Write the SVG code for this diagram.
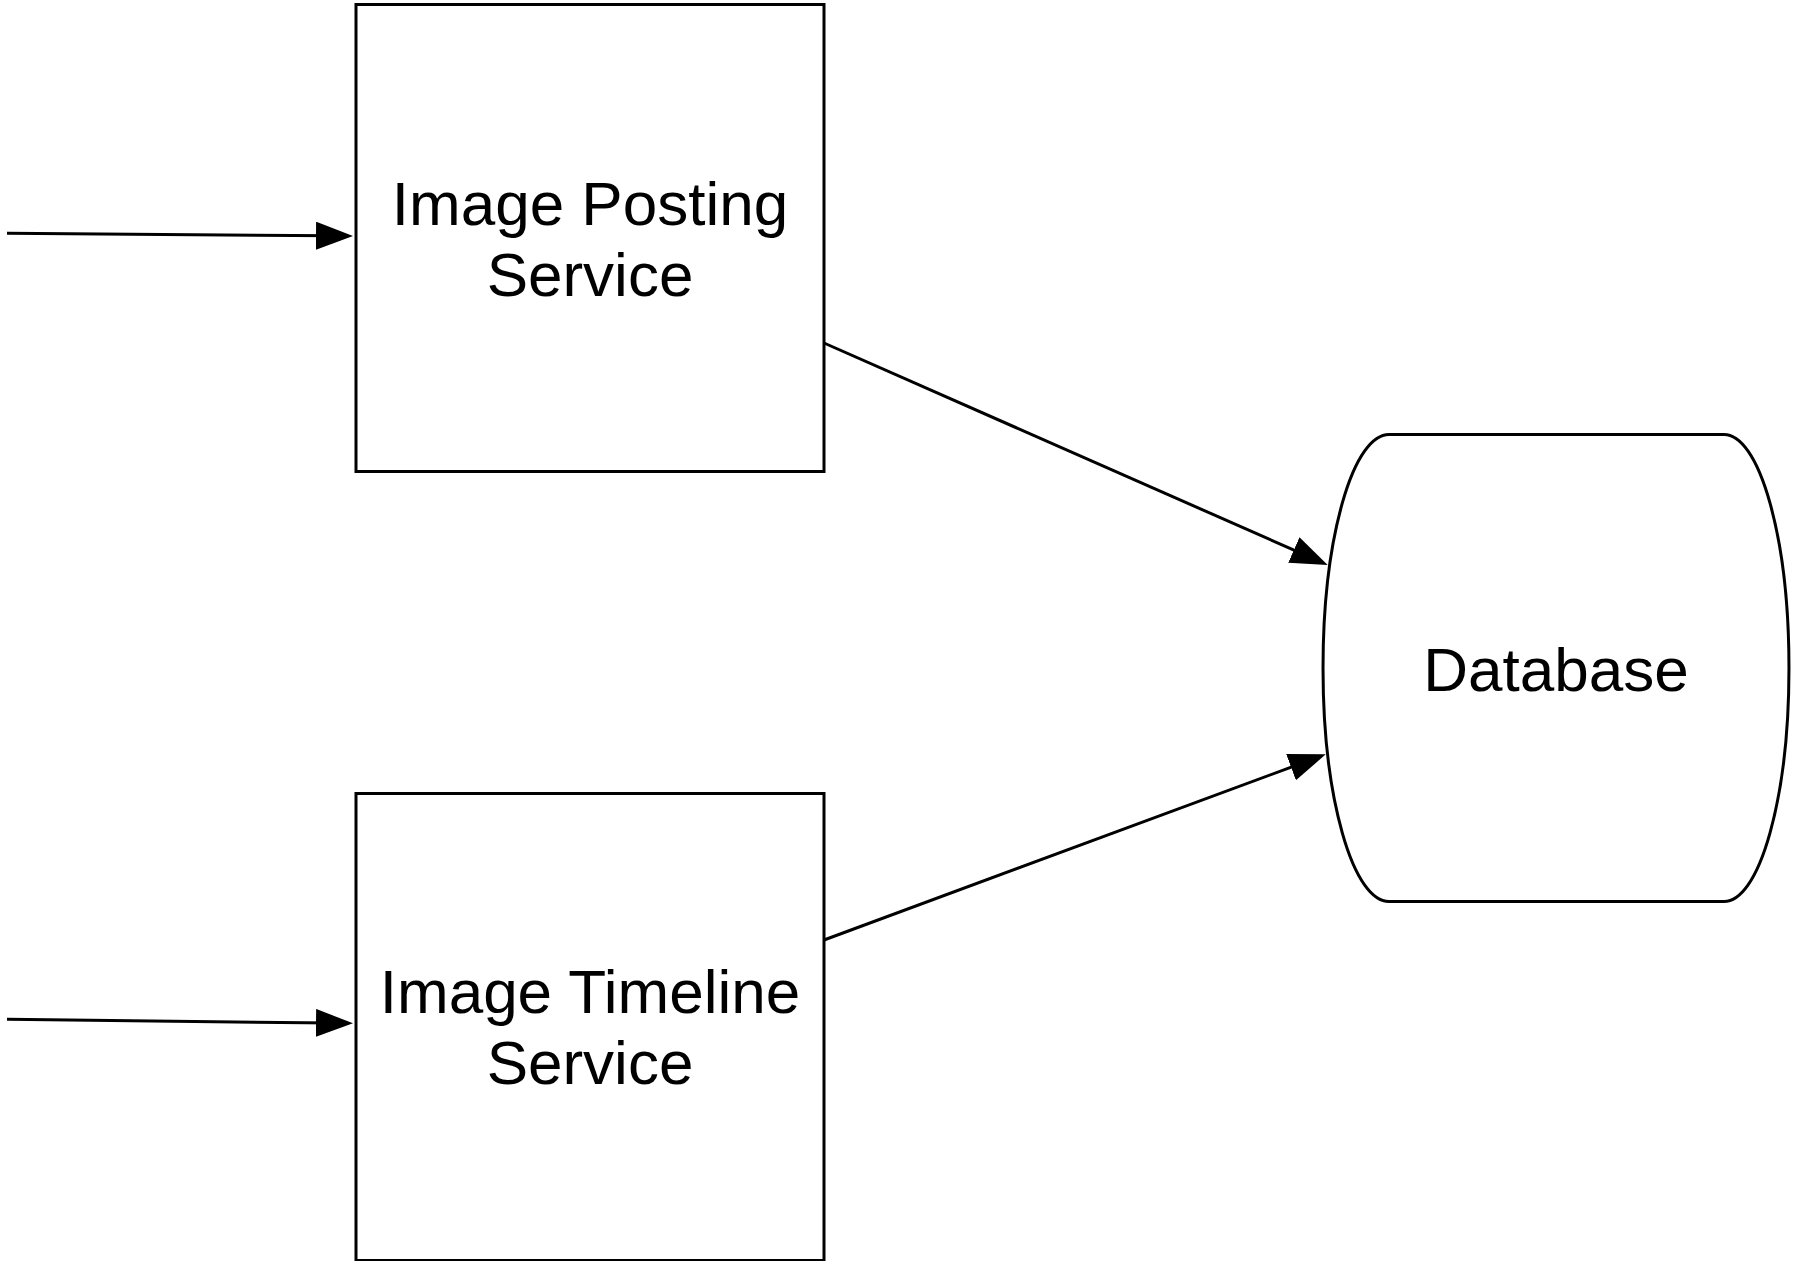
<svg xmlns="http://www.w3.org/2000/svg" width="1793" height="1261" viewBox="0 0 1793 1261">
  <style>
    .shape { fill: #ffffff; stroke: #000000; stroke-width: 3; }
    .label { font-family: "Liberation Sans", Arial, Helvetica, sans-serif; font-size: 62px; fill: #000000; text-anchor: middle; }
    .edge { fill: none; stroke: #000000; stroke-width: 3; marker-end: url(#arrow); }
  </style>
  <defs>
    <marker id="arrow" markerUnits="userSpaceOnUse" markerWidth="40" markerHeight="30" refX="17" refY="14" orient="auto">
      <path d="M0,0 L37,14 L0,28 Z" fill="#000000"/>
    </marker>
  </defs>
  <rect width="1793" height="1261" fill="#ffffff"/>

  <g id="image-posting-service">
    <rect class="shape" x="356" y="4.5" width="468" height="467"/>
    <text class="label" x="590" y="225">Image Posting</text>
    <text class="label" x="590" y="296">Service</text>
  </g>

  <g id="image-timeline-service">
    <rect class="shape" x="356" y="793.5" width="468" height="467"/>
    <text class="label" x="590" y="1013">Image Timeline</text>
    <text class="label" x="590" y="1084">Service</text>
  </g>

  <g id="database">
    <path class="shape" d="M1389,434.5 L1724,434.5 A65,233.5 0 0 1 1724,901.5 L1389,901.5 A66,233.5 0 0 1 1389,434.5 Z"/>
    <text class="label" x="1556" y="691">Database</text>
  </g>

  <g id="connectors">
    <line class="edge" x1="7" y1="233.3" x2="333" y2="235.8"/>
    <line class="edge" x1="7" y1="1019.3" x2="333" y2="1023.1"/>
    <line class="edge" x1="824" y1="343" x2="1309.4" y2="556.9"/>
    <line class="edge" x1="824" y1="940" x2="1307" y2="761.3"/>
  </g>
</svg>
